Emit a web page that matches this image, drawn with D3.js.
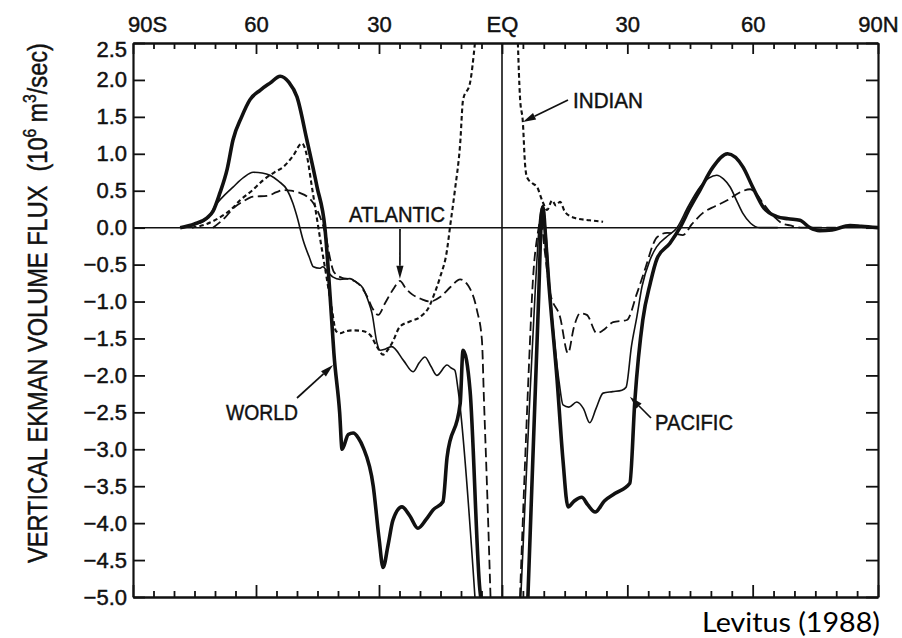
<!DOCTYPE html>
<html>
<head>
<meta charset="utf-8">
<script src="https://cdn.jsdelivr.net/npm/d3@7"></script>
<style>
  html, body { margin: 0; padding: 0; background: #fff; }
  svg { display: block; }
  .tick text, .label { font-family: "Liberation Sans", Arial, sans-serif; fill: #111; stroke: #111; stroke-width: 0.45px; }
  .tick text { font-size: 22px; }
</style>
</head>
<body>
<svg id="chart" width="902" height="638"></svg>
<script>
// Zonally integrated vertical Ekman volume flux (10^6 m^3/s) against latitude
// (negative = south). A null entry breaks a curve where it runs off the plot.

const world = [
  [-78.5, 0.0], [-75, 0.05], [-72, 0.13], [-70.5, 0.22], [-68.8, 0.47], [-67, 0.8],
  [-65.6, 1.19], [-63.5, 1.5], [-61.5, 1.73], [-59, 1.86], [-56.5, 1.96], [-54.1, 2.05],
  [-52, 1.97], [-50, 1.77], [-47.6, 1.19], [-45.1, 0.55], [-43.2, 0.0], [-41.6, -1.2],
  [-41, -1.7], [-39.6, -2.5], [-39, -3.0], [-37.5, -2.8], [-36.3, -2.78], [-35, -2.85],
  [-33.9, -2.97], [-31.4, -3.5], [-30, -4.2], [-29, -4.6], [-27.8, -4.3], [-26.6, -3.96],
  [-24.4, -3.78], [-22.5, -3.9], [-20.5, -4.07], [-18.5, -3.95], [-16.8, -3.82],
  [-14.4, -3.71], [-13.4, -3.11], [-10.2, -2.38], [-9.5, -1.66], [-7.8, -2.2],
  [-5.4, -4.9], [-5.2, -5.0],
  null,
  [6.2, -5.0], [8.8, -0.9], [9.4, 0.1], [9.8, 0.28], [10.4, -0.1], [11, -0.6],
  [13.2, -2.07], [14.6, -3.15], [15.8, -3.78], [17.3, -3.7], [19.1, -3.65], [20.5, -3.75],
  [22.3, -3.85], [24.5, -3.7], [27, -3.6], [30.6, -3.46], [31.8, -2.34], [33.7, -1.25],
  [35.5, -0.75], [37.1, -0.42], [40.2, -0.21], [42.6, 0.0], [45, 0.27], [47.4, 0.51],
  [50.5, 0.82], [54, 1.0], [57.7, 0.82], [60, 0.55], [62.5, 0.28], [65.8, 0.15],
  [68.5, 0.12], [71.3, 0.1], [73.7, 0.0], [76, -0.04], [79, -0.03], [83.3, 0.03],
  [86, 0.02], [90, 0.0]
];

const pacific = [
  [-78, 0.0], [-75, 0.04], [-72, 0.12], [-69.5, 0.33], [-67.5, 0.45], [-65.6, 0.55],
  [-63, 0.68], [-60.7, 0.75], [-58.5, 0.74], [-56.6, 0.71], [-54.5, 0.63], [-52.4, 0.51],
  [-51, 0.33], [-50, 0.15], [-48.5, -0.17], [-47, -0.4], [-46, -0.53], [-44.5, -0.55],
  [-43.7, -0.53], [-42.5, -0.6], [-41.2, -0.67], [-39.5, -0.7], [-37.1, -0.69],
  [-35.5, -0.74], [-33.9, -0.82], [-32.7, -0.98], [-31.7, -1.16], [-30.5, -1.56],
  [-29.8, -1.66], [-28.3, -1.64], [-26.9, -1.61], [-24, -1.8], [-21.7, -1.95],
  [-20.2, -1.83], [-18.8, -1.75], [-17.3, -1.88], [-15.9, -2.0], [-13.4, -1.86],
  [-12.4, -1.9], [-11.5, -1.93], [-10.7, -2.2], [-6.6, -5.0],
  null,
  [4.5, -5.0], [6.5, -2.5], [8, -0.8], [9.2, 0.2], [9.8, 0.3], [10.4, 0.0], [11.5, -0.88],
  [12.5, -1.5], [13.7, -2.1], [14.6, -2.4], [16, -2.43], [17.9, -2.36], [19.5, -2.45],
  [21, -2.64], [22.5, -2.45], [24.2, -2.24], [26.5, -2.22], [28.7, -2.2], [29.7, -2.16],
  [31, -1.6], [32.3, -1.2], [33.5, -0.8], [35.4, -0.44], [37, -0.26], [39.5, -0.12],
  [41.9, 0.0], [44.5, 0.28], [47.4, 0.55], [49.5, 0.67], [51.4, 0.71], [53, 0.66],
  [54.6, 0.55], [56.3, 0.35], [57.7, 0.19], [59.5, 0.06], [61.8, 0.0], [66, 0.0]
];

const atlantic = [
  [-70.5, 0.0], [-67.5, 0.14], [-65.6, 0.26], [-63, 0.36], [-60.7, 0.42], [-57.3, 0.43],
  [-55, 0.48], [-53.4, 0.51], [-51.5, 0.5], [-49.3, 0.47], [-47.5, 0.42], [-46, 0.33],
  [-44.4, 0.15], [-43, -0.1], [-42, -0.4], [-41, -0.6], [-39, -0.68], [-37, -0.7],
  [-35, -0.76], [-33, -0.92], [-31.5, -1.1], [-30.2, -1.18], [-28.5, -1.02],
  [-26.5, -0.83], [-24.9, -0.72], [-23.5, -0.82], [-22, -0.9], [-19.5, -0.97],
  [-17.6, -1.0], [-15.1, -0.94], [-12.5, -0.8], [-10.2, -0.7], [-8.3, -0.78],
  [-6.1, -1.12], [-4.9, -1.52], [-4.4, -2.33], [-3.6, -3.6], [-2.8, -5.0],
  null,
  [4.3, -5.0], [5.5, -3.2], [6.5, -1.8], [7.4, -0.71], [8.5, -0.1], [9.3, 0.1],
  [10.2, -0.3], [11.5, -0.88], [13.9, -1.21], [15.8, -1.7], [17.2, -1.35], [18.7, -1.16],
  [20.3, -1.18], [22.7, -1.43], [24.2, -1.39], [26.6, -1.28], [29.9, -1.25], [32.3, -0.89],
  [34.7, -0.48], [36, -0.25], [37.1, -0.13], [39.5, -0.07], [41.5, -0.08], [43.3, -0.1],
  [45.5, 0.05], [48.1, 0.2], [51, 0.29], [53.9, 0.37], [57, 0.48], [59.4, 0.52],
  [61, 0.45], [62.5, 0.33], [65.3, 0.14], [67, 0.06], [69, 0.03], [72, 0.0], [80, 0.0]
];

const indian = [
  [-75.6, 0.0], [-72, 0.05], [-68.8, 0.14], [-66, 0.25], [-63.9, 0.37], [-61, 0.5],
  [-58.3, 0.64], [-55.5, 0.75], [-53.4, 0.82], [-51, 0.97], [-48.8, 1.14], [-47.5, 0.95],
  [-46.5, 0.6], [-45.5, 0.25], [-44.5, -0.1], [-43, -0.6], [-41.5, -1.1], [-40.5, -1.4],
  [-39.5, -1.43], [-38, -1.4], [-36.3, -1.39], [-34, -1.4], [-32.2, -1.45], [-30.5, -1.61],
  [-29, -1.72], [-27.8, -1.65], [-26.8, -1.56], [-24.9, -1.34], [-22.5, -1.27], [-20, -1.21],
  [-17.6, -1.05], [-16.8, -0.94], [-15.1, -0.67], [-13.4, -0.3], [-12.7, 0.0], [-11.5, 0.5],
  [-10.2, 1.14], [-9.5, 1.73], [-7.8, 1.96], [-6.6, 2.5],
  null,
  [3.8, 2.5], [4.3, 1.77], [5.0, 1.42], [5.5, 0.87], [6.0, 0.68], [7.3, 0.6], [8.4, 0.55],
  [9.6, 0.37], [10.8, 0.24], [12, 0.37], [12.9, 0.3], [13.9, 0.35], [15.1, 0.21],
  [17.5, 0.13], [21, 0.1], [24.2, 0.08]
];

const latMajorTicks = [-90, -60, -30, 0, 30, 60, 90];
const latTickLabels = ["90S", "60", "30", "EQ", "30", "60", "90N"];
const latMinorTicks = [-85, -80, -75, -70, -65, -55, -50, -45, -40, -35, -25, -20, -15, -10, -5,
                       5, 10, 15, 20, 25, 35, 40, 45, 50, 55, 65, 70, 75, 80, 85];
const fluxTicks = [2.5, 2.0, 1.5, 1.0, 0.5, 0.0, -0.5, -1.0, -1.5, -2.0, -2.5, -3.0, -3.5, -4.0, -4.5, -5.0];

const svg = d3.select("#chart");
const ink = "#111";

const x = d3.scaleLinear().domain([-90, 0, 90]).range([133, 502, 878]);
const y = d3.scaleLinear().domain([-5, 2.5]).range([597, 43]);

svg.append("defs").append("clipPath").attr("id", "plot-area")
  .append("rect")
  .attr("x", x(-90)).attr("y", y(2.5))
  .attr("width", x(90) - x(-90)).attr("height", y(-5) - y(2.5));

// Reference lines: zero flux and the equator
svg.append("line")
  .attr("x1", x(-90)).attr("x2", x(90)).attr("y1", y(0)).attr("y2", y(0))
  .attr("stroke", ink).attr("stroke-width", 1.5);
svg.append("line")
  .attr("x1", x(0)).attr("x2", x(0)).attr("y1", y(2.5)).attr("y2", y(-5))
  .attr("stroke", ink).attr("stroke-width", 1.6);

// Axes: every tick points into the frame
function styleAxis(g) {
  g.select(".domain").attr("stroke", ink).attr("stroke-width", 2.2);
  g.selectAll(".tick line").attr("stroke", ink).attr("stroke-width", 1.8);
}

svg.append("g").attr("transform", `translate(0,${y(2.5)})`)
  .call(d3.axisTop(x).tickValues(latMinorTicks).tickSize(-6).tickSizeOuter(0).tickFormat(""))
  .call(styleAxis);
const topMajor = svg.append("g").attr("transform", `translate(0,${y(2.5)})`)
  .call(d3.axisTop(x).tickValues(latMajorTicks).tickSize(-11).tickSizeOuter(0).tickPadding(11)
    .tickFormat((d, i) => latTickLabels[i]))
  .call(styleAxis);
topMajor.selectAll(".tick").filter(d => d === -90).select("text").attr("dx", 14);

svg.append("g").attr("transform", `translate(0,${y(-5)})`)
  .call(d3.axisBottom(x).tickValues(latMinorTicks).tickSize(-6).tickSizeOuter(0).tickFormat(""))
  .call(styleAxis);
svg.append("g").attr("transform", `translate(0,${y(-5)})`)
  .call(d3.axisBottom(x).tickValues(latMajorTicks).tickSize(-12).tickSizeOuter(0).tickFormat(""))
  .call(styleAxis);

const leftAxis = svg.append("g").attr("transform", `translate(${x(-90)},0)`)
  .call(d3.axisLeft(y).tickValues(fluxTicks).tickSize(-12).tickSizeOuter(0).tickPadding(6)
    .tickFormat(d3.format(".1f")))
  .call(styleAxis);
leftAxis.selectAll(".tick").filter(d => d === 2.5).select("text").attr("dy", "0.62em");

svg.append("g").attr("transform", `translate(${x(90)},0)`)
  .call(d3.axisRight(y).tickValues(fluxTicks).tickSize(-12).tickSizeOuter(0).tickFormat(""))
  .call(styleAxis);

// Series curves
const line = d3.line()
  .defined(d => d !== null)
  .x(d => x(d[0]))
  .y(d => y(d[1]))
  .curve(d3.curveMonotoneX);

const series = [
  { data: indian,   width: 2.1, dash: "4.5,3" },
  { data: atlantic, width: 1.8, dash: "9.5,4.5" },
  { data: pacific,  width: 1.6, dash: null },
  { data: world,    width: 3.6, dash: null }
];

const curves = svg.append("g").attr("clip-path", "url(#plot-area)");
series.forEach(s => {
  curves.append("path")
    .datum(s.data)
    .attr("d", line)
    .attr("fill", "none")
    .attr("stroke", ink)
    .attr("stroke-width", s.width)
    .attr("stroke-linejoin", "round")
    .attr("stroke-dasharray", s.dash);
});

// Curve labels with arrows
const notes = [
  { text: "ATLANTIC", tx: 349, ty: 222, w: 96, from: [400, 229], tip: [-24.9, -0.69] },
  { text: "INDIAN",   tx: 573, ty: 108, w: 70, from: [568, 100], tip: [5.0, 1.43] },
  { text: "WORLD",    tx: 226, ty: 420, w: 72, from: [297, 398], tip: [-41.2, -1.86] },
  { text: "PACIFIC",  tx: 655, ty: 430, w: 78, from: [651, 418], tip: [30.6, -2.29] }
];

notes.forEach(n => {
  const tx = x(n.tip[0]), ty = y(n.tip[1]);
  const [fx, fy] = n.from;
  const len = Math.hypot(tx - fx, ty - fy);
  const ux = (tx - fx) / len, uy = (ty - fy) / len;
  const headLen = 13, headHalf = 3.6;
  const bx = tx - ux * headLen, by = ty - uy * headLen;
  svg.append("line")
    .attr("x1", fx).attr("y1", fy).attr("x2", bx).attr("y2", by)
    .attr("stroke", ink).attr("stroke-width", 1.7);
  svg.append("path")
    .attr("d", `M${tx},${ty}L${bx - uy * headHalf},${by + ux * headHalf}L${bx + uy * headHalf},${by - ux * headHalf}Z`)
    .attr("fill", ink);
  svg.append("text")
    .attr("class", "label")
    .attr("x", n.tx).attr("y", n.ty)
    .attr("textLength", n.w).attr("lengthAdjust", "spacingAndGlyphs")
    .attr("font-size", 22)
    .text(n.text);
});

// Vertical axis title, set in a condensed face
const titleGroup = svg.append("g");
const title = titleGroup.append("text")
  .attr("class", "label")
  .attr("font-size", 27);
title.append("tspan").text("VERTICAL EKMAN VOLUME FLUX");
title.append("tspan").attr("dx", 16).text("(10");
title.append("tspan").attr("dy", -11).attr("font-size", 18).text("6");
title.append("tspan").attr("dy", 11).attr("dx", 7).text("m");
title.append("tspan").attr("dy", -11).attr("font-size", 18).text("3");
title.append("tspan").attr("dy", 11).text("/sec)");
const titleLen = title.node().getComputedTextLength();
titleGroup.attr("transform", `translate(47,563) rotate(-90) scale(${500 / titleLen},1)`);

// Source credit
svg.append("text")
  .attr("x", 880).attr("y", 632)
  .attr("text-anchor", "end")
  .attr("textLength", 178).attr("lengthAdjust", "spacingAndGlyphs")
  .attr("font-family", "Lato, 'Open Sans', sans-serif")
  .attr("font-size", 27)
  .attr("fill", "#000")
  .text("Levitus (1988)");
</script>
</body>
</html>
